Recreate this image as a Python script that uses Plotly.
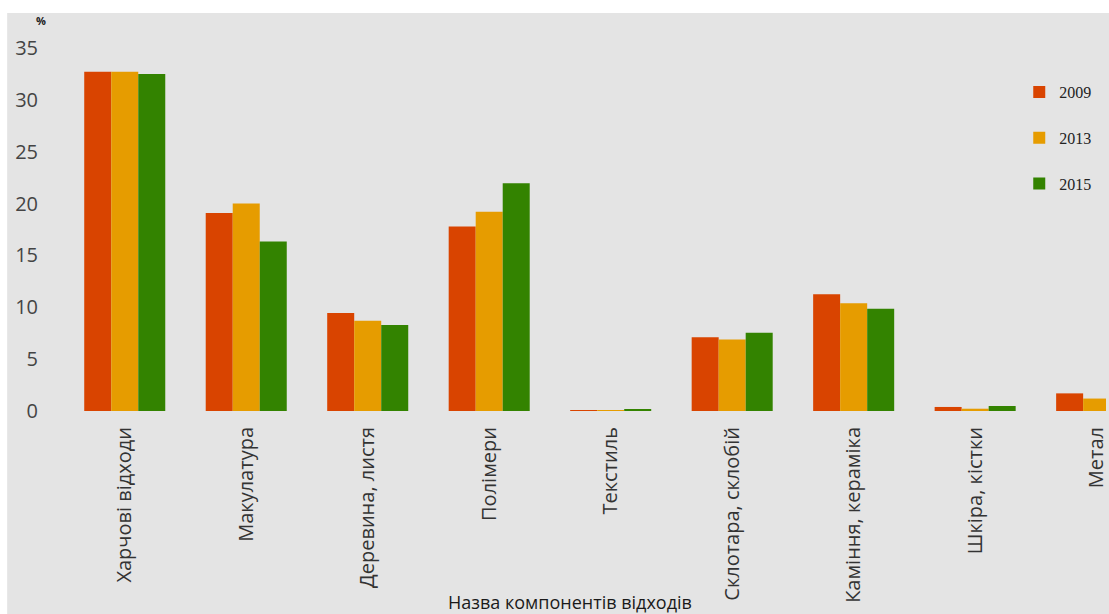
import plotly.graph_objects as go

categories = ["Харчові відходи", "Макулатура", "Деревина, листя", "Полімери", "Текстиль",
              "Склотара, склобій", "Каміння, кераміка", "Шкіра, кістки", "Метал"]
v2009 = [32.7, 19.1, 9.45, 17.8, 0.05, 7.1, 11.25, 0.39, 1.7]
v2013 = [32.7, 20.0, 8.7, 19.2, 0.05, 6.9, 10.4, 0.22, 1.2]
v2015 = [32.5, 16.35, 8.3, 21.95, 0.15, 7.55, 9.85, 0.48, 1.4]
years = ["2009", "2013", "2015"]
colors = ["#d94400", "#e69c00", "#338300"]
y_ticks = [0, 5, 10, 15, 20, 25, 30, 35]

W, H = 1109, 614
L, R, T, B = 64, 0, 48, 203
pw = W - L - R
ph = H - T - B

def px_x(x):
    return (x - L) / pw

def px_y(y):
    return (H - B - y) / ph

fig = go.Figure()
for yr, vals, c in zip(years, [v2009, v2013, v2015], colors):
    fig.add_trace(go.Bar(x=categories, y=vals, name=yr, marker_color=c,
                         marker_line_width=0, legendgroup=yr))

fig.update_layout(
    width=W, height=H,
    margin=dict(l=L, r=R, t=T, b=B, pad=0),
    paper_bgcolor="white",
    plot_bgcolor="#e4e4e4",
    barmode="group",
    bargap=0.333,
    bargroupgap=0,
    font=dict(family="Open Sans", color="#3a3a3a"),
    xaxis=dict(range=[-0.5, 8.077], showgrid=False, zeroline=False, showline=False,
               tickangle=-90, tickfont=dict(size=20, color="#333333"),
               ticks="", ticklabelstandoff=11),
    yaxis=dict(range=[0, 35], tickvals=y_ticks, showgrid=False, zeroline=False,
               showline=False, ticks="", tickfont=dict(size=20, color="#444444"),
               ticklabelstandoff=25),
    legend=dict(x=px_x(1022), y=px_y(75), xanchor="left", yanchor="top",
                bgcolor="rgba(0,0,0,0)", tracegroupgap=22,
                font=dict(family="Liberation Serif", size=16, color="#222222")),
    shapes=[dict(type="rect", xref="paper", yref="paper", layer="below",
                 x0=px_x(7), x1=px_x(W + 5), y0=px_y(H + 5), y1=px_y(13),
                 fillcolor="#e4e4e4", line_width=0)],
    annotations=[
        dict(text="Назва компонентів відходів", xref="paper", yref="paper",
             x=px_x(571), y=px_y(602), xanchor="center", yanchor="middle",
             showarrow=False, font=dict(size=18, color="#1a1a1a")),
        dict(text="<b>%</b>", xref="paper", yref="paper",
             x=px_x(41), y=px_y(20), xanchor="center", yanchor="middle",
             showarrow=False, font=dict(size=11, color="#222222")),
    ],
)

fig.write_html("out.html")
